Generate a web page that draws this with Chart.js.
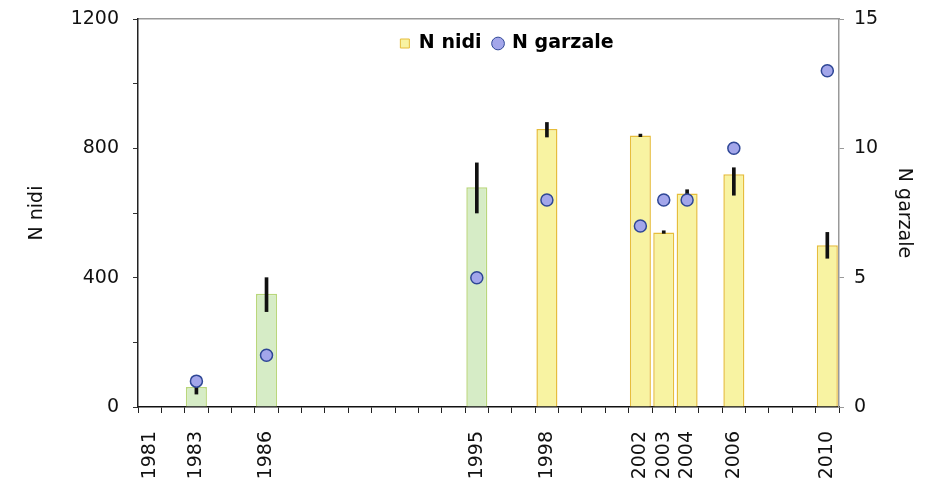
<!DOCTYPE html>
<html>
<head>
<meta charset="utf-8">
<script src="https://cdn.jsdelivr.net/npm/chart.js@4/dist/chart.umd.min.js"></script>
<style>
  html, body { margin: 0; padding: 0; background: #fff; }
  #wrap { width: 939px; height: 490px; }
</style>
</head>
<body>
<div id="wrap"><canvas id="myChart"></canvas></div>
<script>
const years = [1981,1982,1983,1984,1985,1986,1987,1988,1989,1990,1991,1992,1993,1994,1995,
               1996,1997,1998,1999,2000,2001,2002,2003,2004,2005,2006,2007,2008,2009,2010];
const shownYears = [1981,1983,1986,1995,1998,2002,2003,2004,2006,2010];

const nidi = [null,null,62,null,null,350,null,null,null,null,null,null,null,null,680,
              null,null,860,null,null,null,840,540,660,null,720,null,null,null,500];
const nidiLow = [null,null,40,null,null,295,null,null,null,null,null,null,null,null,600,
                 null,null,835,null,null,null,836,537,655,null,655,null,null,null,460];
const nidiHigh = [null,null,75,null,null,400,null,null,null,null,null,null,null,null,755,
                  null,null,880,null,null,null,844,545,672,null,740,null,null,null,540];
const garzale = [null,null,1,null,null,2,null,null,null,null,null,null,null,null,5,
                 null,null,8,null,null,null,7,8,8,null,10,null,null,null,13];

const greenFill = '#d6ecc6', greenLine = '#b9d77c';
const yellowFill = '#f8f3a2', yellowLine = '#e6bd3c';
const dotFill = '#a3a6ea', dotLine = '#2f4796';

const errBars = years.map((y, i) => nidiLow[i] == null ? null : [nidiLow[i], nidiHigh[i]]);
const font = { family: 'DejaVu Sans', size: 19 };

// legend inside the plot, one row near the top
const legendRow = {
  id: 'legendRow',
  afterInit(chart) {
    if (chart.legend) chart.legend.isHorizontal = () => true;
  },
  afterLayout(chart) {
    const lg = chart.legend, a = chart.chartArea;
    if (!lg) return;
    lg.left = a.left + 37;
    lg.right = a.right;
    lg.top = a.top + 3;
    lg.bottom = lg.top + lg.height;
  }
};

const fitY = w => s => { s.width = w; s.paddingTop = 0; };

const ctx = document.getElementById('myChart');
new Chart(ctx, {
  type: 'bar',
  data: {
    labels: years,
    datasets: [
      {
        label: 'N garzale',
        type: 'line',
        data: garzale,
        yAxisID: 'y2',
        showLine: false,
        pointRadius: 6,
        pointBackgroundColor: dotFill,
        pointBorderColor: dotLine,
        pointBorderWidth: 1.5,
        order: 0
      },
      {
        label: 'err',
        data: errBars,
        yAxisID: 'y',
        backgroundColor: '#111',
        barThickness: 3,
        grouped: false,
        order: 1
      },
      {
        label: 'N nidi',
        data: nidi,
        yAxisID: 'y',
        backgroundColor: c => years[c.dataIndex] <= 1995 ? greenFill : yellowFill,
        borderColor: c => years[c.dataIndex] <= 1995 ? greenLine : yellowLine,
        borderWidth: 1.5,
        barPercentage: 0.9,
        categoryPercentage: 1,
        grouped: false,
        order: 2
      }
    ]
  },
  plugins: [legendRow],
  options: {
    responsive: true,
    maintainAspectRatio: false,
    animation: false,
    layout: { padding: { top: 19, right: 20, left: 22, bottom: 0 } },
    plugins: {
      tooltip: { enabled: false },
      legend: {
        position: 'chartArea',
        align: 'center',
        labels: {
          font: { family: 'DejaVu Sans', size: 19, weight: 'bold' },
          color: '#1a1a1a',
          boxWidth: 9,
          boxHeight: 9,
          padding: 12,
          usePointStyle: true,
          generateLabels: () => [
            { text: 'N nidi', fillStyle: yellowFill, strokeStyle: yellowLine, lineWidth: 1, pointStyle: 'rect', datasetIndex: 2 },
            { text: 'N garzale', fillStyle: dotFill, strokeStyle: dotLine, lineWidth: 1, pointStyle: 'circle', datasetIndex: 0 }
          ]
        }
      }
    },
    scales: {
      x: {
        offset: true,
        grid: { display: true, drawOnChartArea: false, offset: true, tickLength: 6, color: '#222' },
        border: { color: '#111', width: 1.5 },
        ticks: {
          autoSkip: false,
          minRotation: 90,
          maxRotation: 90,
          padding: 18,
          font: font,
          color: '#111',
          callback: (v, i) => shownYears.includes(years[i]) ? String(years[i]) : ''
        },
        afterFit: s => { s.height = 83; }
      },
      xTop: {
        position: 'top',
        grid: { display: false, drawTicks: false },
        border: { color: '#999', width: 1.5 },
        ticks: { display: false },
        afterFit: s => { s.height = 0; }
      },
      y: {
        position: 'left',
        min: 0,
        max: 1200,
        grid: { display: true, drawOnChartArea: false, tickLength: 5, color: '#333' },
        border: { color: '#222', width: 1.5 },
        ticks: {
          stepSize: 200,
          padding: 14,
          font: font,
          color: '#111',
          callback: v => v % 400 === 0 ? v : ''
        },
        title: { display: true, text: 'N nidi', font: font, color: '#111' },
        afterFit: fitY(116)
      },
      y2: {
        position: 'right',
        min: 0,
        max: 15,
        grid: { display: true, drawOnChartArea: false, tickLength: 5, color: '#999' },
        border: { color: '#999', width: 1.5 },
        ticks: { stepSize: 5, padding: 10, font: font, color: '#111' },
        title: { display: true, text: 'N garzale', font: font, color: '#111' },
        afterFit: fitY(80)
      }
    }
  }
});
</script>
</body>
</html>
